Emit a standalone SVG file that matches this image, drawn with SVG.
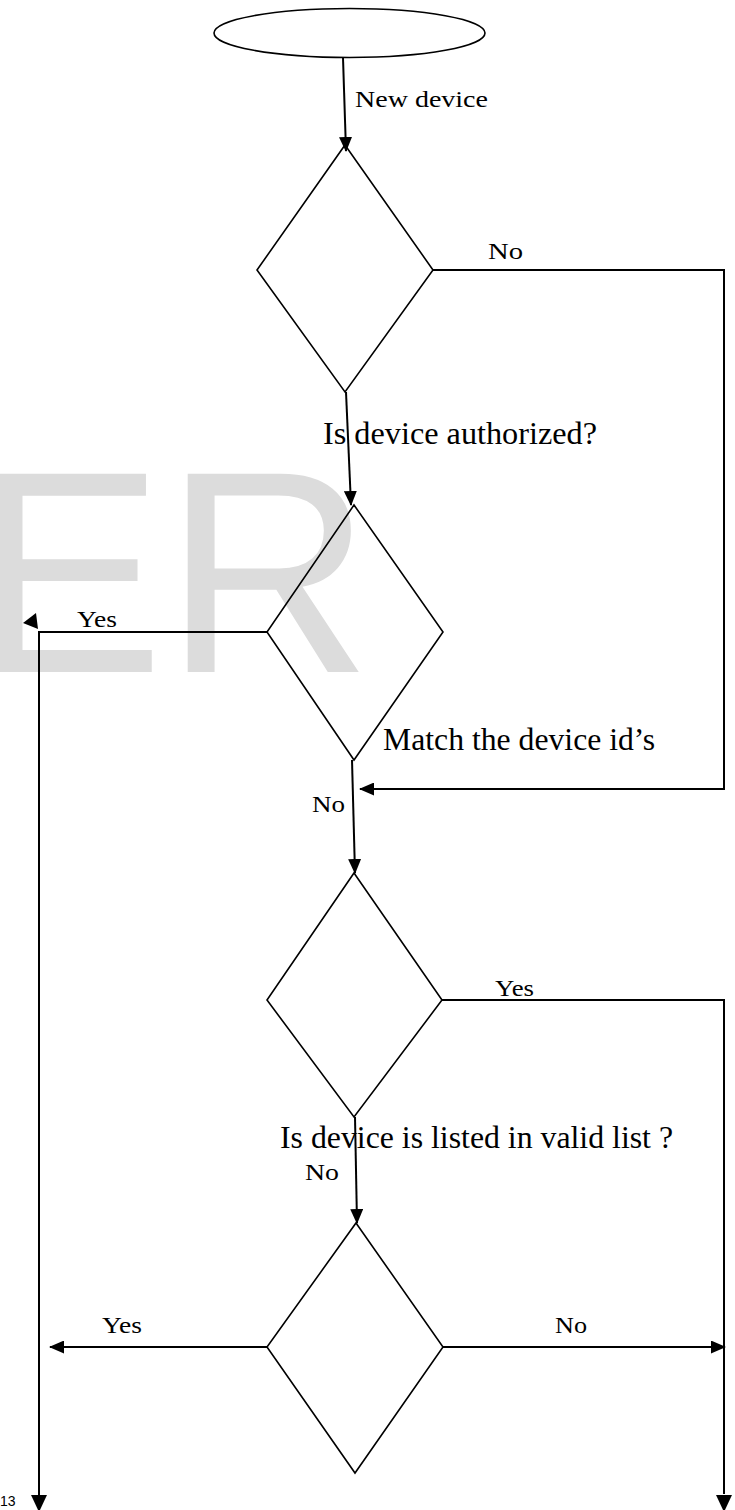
<svg xmlns="http://www.w3.org/2000/svg" width="735" height="1510" viewBox="0 0 735 1510">
<style>
.shape{fill:none;stroke:#000;stroke-width:1.6}
.conn{fill:none;stroke:#000;stroke-width:2}
.lbl{font-family:"Liberation Serif","Times New Roman",serif;fill:#000}
.s24{font-size:24px}
.s32{font-size:32px}
.wm{font-family:"Liberation Sans",Arial,sans-serif;font-size:288px;fill:#dcdcdc}
</style>
<defs>
<marker id="ah" markerUnits="userSpaceOnUse" markerWidth="15" markerHeight="13" refX="14" refY="6.5" orient="auto" viewBox="0 0 15 13">
<path d="M0,0 L15,6.5 L0,13 z" fill="#000"/>
</marker>
</defs>
<rect width="735" height="1510" fill="#fff"/>
<text class="wm" x="-28" y="672">ER</text>

<g id="start"><ellipse class="shape" cx="349.5" cy="33" rx="135.5" ry="24.5"/></g>
<g id="d1"><polygon class="shape" points="345,145 433,270 345,392 257,270"/></g>
<g id="d2"><polygon class="shape" points="354,505 443,632 354,760 267,632"/></g>
<g id="d3"><polygon class="shape" points="354,873 442,1000 354,1117 267,1000"/></g>
<g id="d4"><polygon class="shape" points="356,1223 443,1347 355,1473 267,1347"/></g>

<g id="connectors">
<line class="conn" x1="343" y1="58" x2="346" y2="151" marker-end="url(#ah)"/>
<polyline class="conn" points="433,270 724,270 724,789 360,789" marker-end="url(#ah)"/>
<line class="conn" x1="346" y1="392" x2="351" y2="505" marker-end="url(#ah)"/>
<polyline class="conn" points="267,632 39,632 39,1510"/>
<polygon points="23,623 36,613 38,629" fill="#000"/>
<polygon points="31,1495 47,1495 39,1512" fill="#000"/>
<line class="conn" x1="352" y1="760" x2="355" y2="873" marker-end="url(#ah)"/>
<polyline class="conn" points="442,1000 724,1000 724,1494"/>
<polygon points="716,1495 732,1495 724,1512" fill="#000"/>
<line class="conn" x1="355" y1="1117" x2="357" y2="1223" marker-end="url(#ah)"/>
<line class="conn" x1="267" y1="1347" x2="50" y2="1347" marker-end="url(#ah)"/>
<line class="conn" x1="443" y1="1347" x2="725" y2="1347" marker-end="url(#ah)"/>
</g>

<g id="labels">
<text class="lbl s24" x="355" y="107" textLength="133" lengthAdjust="spacingAndGlyphs">New device</text>
<text class="lbl s24" x="488" y="259" textLength="35" lengthAdjust="spacingAndGlyphs">No</text>
<text class="lbl s32" x="323" y="444" textLength="274" lengthAdjust="spacingAndGlyphs">Is device authorized?</text>
<text class="lbl s24" x="77" y="627" textLength="40" lengthAdjust="spacingAndGlyphs">Yes</text>
<text class="lbl s32" x="383" y="750" textLength="272" lengthAdjust="spacingAndGlyphs">Match the device id’s</text>
<text class="lbl s24" x="312" y="812" textLength="33" lengthAdjust="spacingAndGlyphs">No</text>
<text class="lbl s24" x="495" y="996" textLength="39" lengthAdjust="spacingAndGlyphs">Yes</text>
<text class="lbl s32" x="280" y="1148" textLength="393" lengthAdjust="spacingAndGlyphs">Is device is listed in valid list ?</text>
<text class="lbl s24" x="305" y="1180" textLength="34" lengthAdjust="spacingAndGlyphs">No</text>
<text class="lbl s24" x="102" y="1333" textLength="40" lengthAdjust="spacingAndGlyphs">Yes</text>
<text class="lbl s24" x="555" y="1333" textLength="32" lengthAdjust="spacingAndGlyphs">No</text>
<text x="0" y="1506" style="font-family:'Liberation Sans',Arial,sans-serif;font-size:14px" fill="#000">13</text>
</g>
</svg>
